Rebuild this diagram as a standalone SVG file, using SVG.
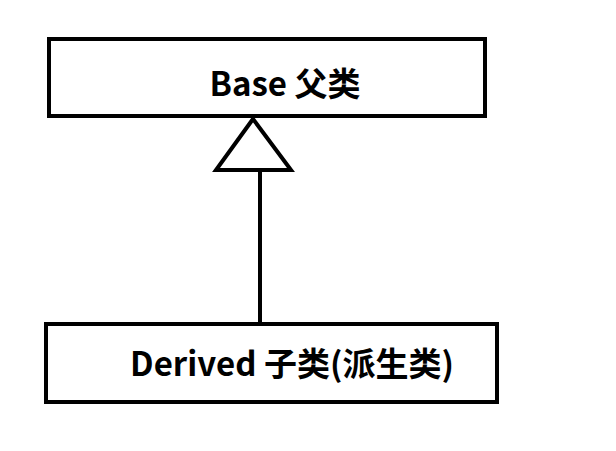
<svg xmlns="http://www.w3.org/2000/svg" width="616" height="451" viewBox="0 0 616 451">
<style>
.box{fill:#fff;stroke:#000;stroke-width:4}
.lbl{font-family:"Noto Sans CJK SC","Noto Sans",sans-serif;font-weight:bold;font-size:33px;fill:#000}
.edge{stroke:#000;stroke-width:4;fill:none}
</style>
<rect width="616" height="451" fill="#fff"/>
<g id="connectors">
<line class="edge" x1="260" y1="170" x2="260" y2="325"/>
<polygon class="edge" points="253,119 291,170 216,170" fill="#fff"/>
</g>
<g id="base">
<rect class="box" x="49" y="39" width="436" height="77"/>
<text class="lbl" x="285" y="96" text-anchor="middle">Base 父类</text>
</g>
<g id="derived">
<rect class="box" x="46" y="324" width="451" height="78"/>
<text class="lbl" x="292" y="376" text-anchor="middle">Derived 子类(派生类)</text>
</g>
</svg>
